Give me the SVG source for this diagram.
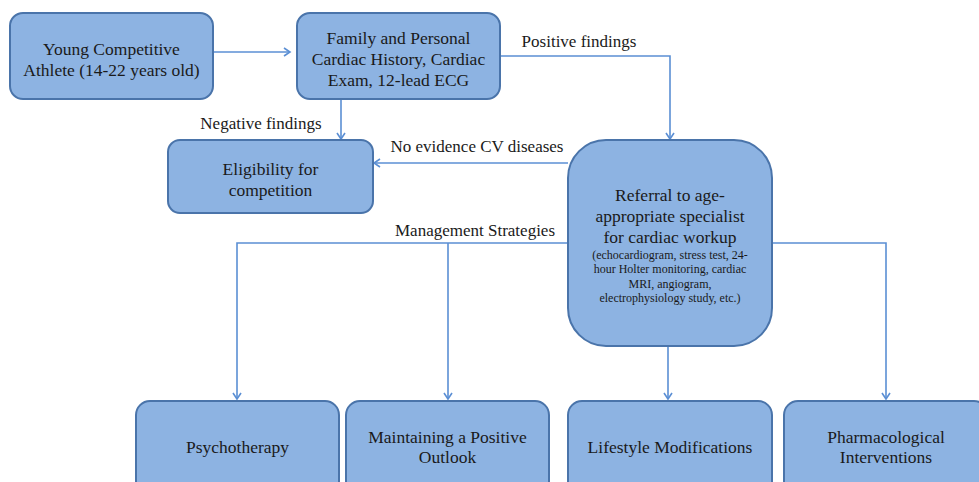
<svg xmlns="http://www.w3.org/2000/svg" width="979" height="482" viewBox="0 0 979 482" font-family="Liberation Serif, Times New Roman, serif">
<style>
.box{fill:#8DB3E2;stroke:#4A74AA;stroke-width:2}
.t{font-size:17.5px;fill:#1a1a1a;text-anchor:middle}
.s{font-size:12px;fill:#1a1a1a;text-anchor:middle}
.l{font-size:17px;fill:#1a1a1a;text-anchor:middle}
.c{fill:none;stroke:#5B8FD4;stroke-width:1.6}
</style>
<defs>
<marker id="ah" markerWidth="10" markerHeight="10" refX="8" refY="5" orient="auto" markerUnits="userSpaceOnUse">
<path d="M2,1 L8,5 L2,9" fill="none" stroke="#5B8FD4" stroke-width="1.6"/>
</marker>
</defs>
<rect width="979" height="482" fill="#ffffff"/>
<g id="connectors">
<line class="c" x1="213" y1="52" x2="290" y2="52" marker-end="url(#ah)"/>
<line class="c" x1="341" y1="99" x2="341" y2="139" marker-end="url(#ah)"/>
<polyline class="c" points="500,56 670,56 670,139" marker-end="url(#ah)"/>
<line class="c" x1="568" y1="163" x2="374" y2="163" marker-end="url(#ah)"/>
<polyline class="c" points="568,243 237,243 237,399" marker-end="url(#ah)"/>
<line class="c" x1="448" y1="243" x2="448" y2="399" marker-end="url(#ah)"/>
<line class="c" x1="668" y1="346" x2="668" y2="399" marker-end="url(#ah)"/>
<polyline class="c" points="772,243 886,243 886,399" marker-end="url(#ah)"/>
<text class="l" x="261" y="129">Negative findings</text>
<text class="l" x="579" y="47">Positive findings</text>
<text class="l" x="477" y="152">No evidence CV diseases</text>
<text class="l" x="475" y="236">Management Strategies</text>
</g>
<g id="athlete">
<rect class="box" x="10" y="13" width="203" height="86" rx="13"/>
<text class="t" x="111.5" y="55">Young Competitive</text>
<text class="t" x="111.5" y="76">Athlete (14-22 years old)</text>
</g>
<g id="history">
<rect class="box" x="297" y="13" width="203" height="86" rx="13"/>
<text class="t" x="398.5" y="44">Family and Personal</text>
<text class="t" x="398.5" y="65">Cardiac History, Cardiac</text>
<text class="t" x="398.5" y="86">Exam, 12-lead ECG</text>
</g>
<g id="eligibility">
<rect class="box" x="168" y="140" width="205" height="73" rx="12"/>
<text class="t" x="270.5" y="175">Eligibility for</text>
<text class="t" x="270.5" y="196">competition</text>
</g>
<g id="referral">
<rect class="box" x="568" y="140" width="204" height="206" rx="38"/>
<text class="t" x="670" y="201">Referral to age-</text>
<text class="t" x="670" y="222">appropriate specialist</text>
<text class="t" x="670" y="243">for cardiac workup</text>
<text class="s" x="670" y="259">(echocardiogram, stress test, 24-</text>
<text class="s" x="670" y="273">hour Holter monitoring, cardiac</text>
<text class="s" x="670" y="288">MRI, angiogram,</text>
<text class="s" x="670" y="302">electrophysiology study, etc.)</text>
</g>
<g id="psychotherapy">
<rect class="box" x="136" y="401" width="203" height="95" rx="14"/>
<text class="t" x="237.5" y="453">Psychotherapy</text>
</g>
<g id="outlook">
<rect class="box" x="346" y="401" width="203" height="95" rx="14"/>
<text class="t" x="447.5" y="443">Maintaining a Positive</text>
<text class="t" x="447.5" y="463">Outlook</text>
</g>
<g id="lifestyle">
<rect class="box" x="568" y="401" width="204" height="95" rx="14"/>
<text class="t" x="670" y="453">Lifestyle Modifications</text>
</g>
<g id="pharma">
<rect class="box" x="784" y="401" width="204" height="95" rx="14"/>
<text class="t" x="886" y="443">Pharmacological</text>
<text class="t" x="886" y="463">Interventions</text>
</g>
</svg>
